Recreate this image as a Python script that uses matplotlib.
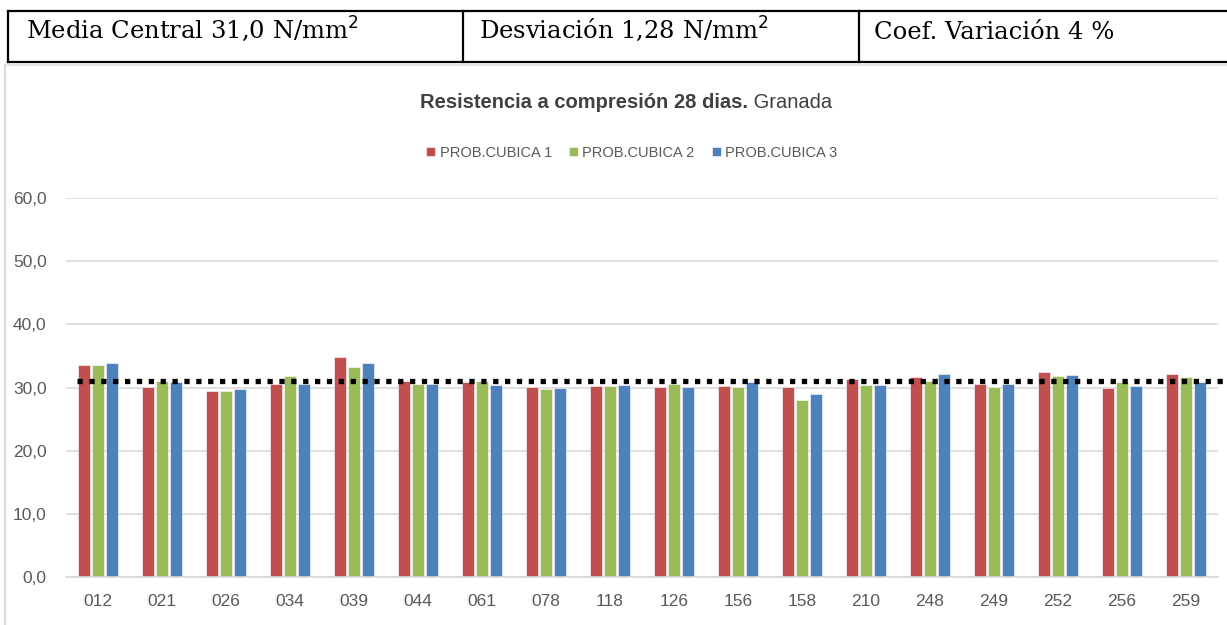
#!/usr/bin/env python

# Compressive strength at 28 days, Granada - grouped bars with mean line
import matplotlib
matplotlib.use('Agg')
import matplotlib.pyplot as plt
from matplotlib.lines import Line2D
import numpy as np

# Data
categories = ['012', '021', '026', '034', '039', '044', '061', '078', '118',
              '126', '156', '158', '210', '248', '249', '252', '256', '259']
prob1 = [33.5, 30.1, 29.5, 30.6, 34.9, 31.0, 30.8, 30.1, 30.2,
         30.1, 30.2, 30.1, 31.3, 31.7, 30.6, 32.4, 29.9, 32.2]
prob2 = [33.5, 31.0, 29.4, 31.8, 33.3, 30.6, 31.0, 29.7, 30.2,
         30.6, 30.1, 28.1, 30.4, 31.1, 30.1, 31.8, 30.8, 31.7]
prob3 = [33.8, 30.8, 29.7, 30.6, 33.8, 30.6, 30.4, 29.9, 30.4,
         30.1, 30.8, 29.0, 30.4, 32.2, 30.6, 32.0, 30.2, 30.8]
series_names = ['PROB.CUBICA 1', 'PROB.CUBICA 2', 'PROB.CUBICA 3']
mean_value = 31.0
header_texts = ['Media Central 31,0 N/mm$^2$', 'Desviación 1,28 N/mm$^2$',
                'Coef. Variación 4 %']
yticks = [0, 10, 20, 30, 40, 50, 60]

colours = ['#C0504D', '#9BBB59', '#4F81BD']
sans = ['Liberation Sans Narrow', 'DejaVu Sans Condensed', 'Liberation Sans']
serif = ['DejaVu Serif']

W, H = 1227, 625
fig = plt.figure(figsize=(W/100, H/100), dpi=100, facecolor='white')

def fx(px):
    return px/W

def fy(py):
    return 1 - py/H

# Header table
lw_tab = 1.6
for y in (11, 62):
    fig.add_artist(Line2D([fx(8), 1], [fy(y), fy(y)], color='black', lw=lw_tab))
for x in (8, 463, 859):
    fig.add_artist(Line2D([fx(x), fx(x)], [fy(11), fy(62)], color='black', lw=lw_tab))
for x, t in zip((26, 479, 874), header_texts):
    fig.text(fx(x), fy(39), t, family=serif, fontsize=17.5, color='black',
             va='baseline', ha='left')

# Chart panel border (light grey)
fig.add_artist(Line2D([fx(5), 1], [fy(65), fy(65)], color='#E0E0E0', lw=1.2))
fig.add_artist(Line2D([fx(5), fx(5)], [fy(65), 0], color='#D9D9D9', lw=1.5))

# Axes
ax = fig.add_axes([fx(66), 48/H, (1218-66)/W, (577-198)/H])
x = np.arange(len(categories))
bw = 0.18
step = 0.22
for i, (vals, c, name) in enumerate(zip((prob1, prob2, prob3), colours, series_names)):
    ax.bar(x + (i-1)*step, vals, width=bw, color=c, edgecolor='white',
           linewidth=0.4, label=name, zorder=2)

ax.plot([-0.33, 17.7], [mean_value, mean_value], color='black', lw=3.8,
        linestyle=(0, (1, 1.25)), dash_capstyle='butt', clip_on=False, zorder=3)

ax.set_xlim(-0.5, len(categories)-0.5)
ax.set_ylim(0, 60)
ax.set_yticks(yticks)
ax.set_yticklabels(['%d,0' % v for v in yticks])
ax.set_xticks(x)
ax.set_xticklabels(categories)
ax.tick_params(length=0, labelsize=12.5, labelcolor='#595959')
ax.tick_params(axis='y', pad=14)
ax.tick_params(axis='x', pad=12)
for lab in ax.get_xticklabels() + ax.get_yticklabels():
    lab.set_family(sans)
ax.grid(axis='y', color='#D9D9D9', lw=1.2, zorder=0)
ax.set_axisbelow(True)
for s in ('top', 'right', 'left'):
    ax.spines[s].set_visible(False)
ax.spines['bottom'].set_color('#D9D9D9')
ax.spines['bottom'].set_linewidth(1.2)

# Title: bold part followed by normal part, centred as a whole
fig.canvas.draw()
r = fig.canvas.get_renderer()
t1 = fig.text(0, fy(103), 'Resistencia a compresión 28 dias.', family=sans,
              fontsize=14.5, fontweight='bold', color='#404040', va='center')
t2 = fig.text(0, fy(103), ' Granada', family=sans, fontsize=14.5,
              color='#404040', va='center')
w1 = t1.get_window_extent(r).width
w2 = t2.get_window_extent(r).width
x0 = 626 - (w1 + w2)/2
t1.set_x(fx(x0))
t2.set_x(fx(x0 + w1))

# Legend
leg = fig.legend(loc='center', bbox_to_anchor=(fx(632), fy(153)), ncol=3,
                 frameon=False, handlelength=0.6, handleheight=0.6,
                 handletextpad=0.3, columnspacing=1.2,
                 prop={'family': sans, 'size': 10.5})
for t in leg.get_texts():
    t.set_color('#595959')

fig.savefig('out.png', dpi=100, facecolor='white')
